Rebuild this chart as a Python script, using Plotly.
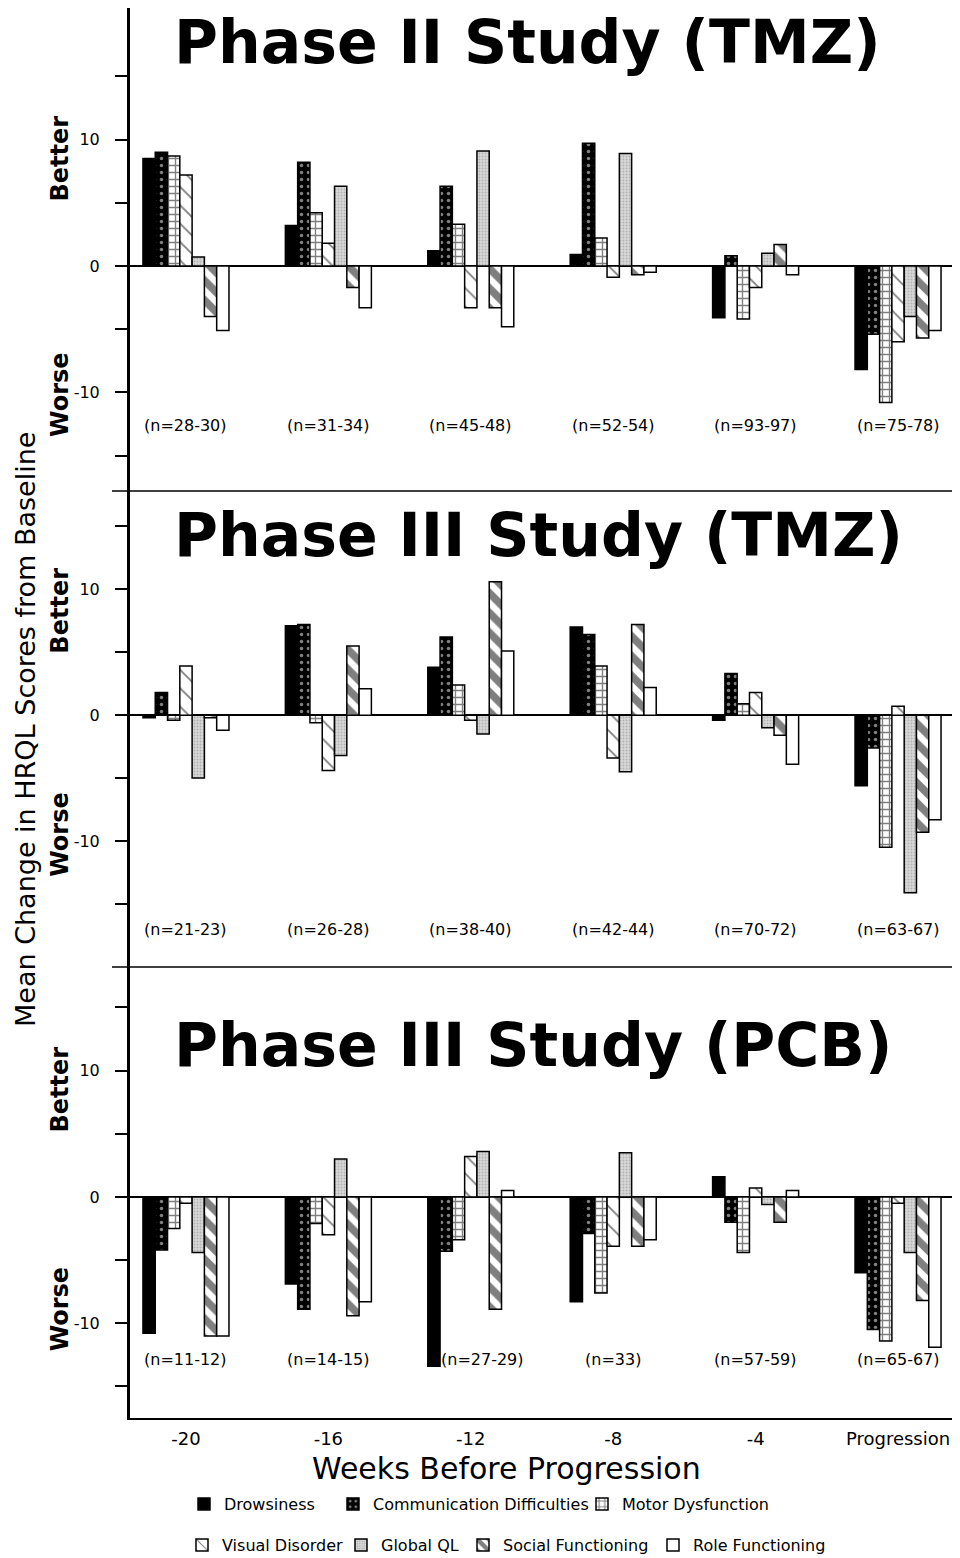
import plotly.graph_objects as go

# ---------------- data ----------------
weeks = ["-20", "-16", "-12", "-8", "-4", "Progression"]
series = ["Drowsiness", "Communication Difficulties", "Motor Dysfunction",
          "Visual Disorder", "Global QL", "Social Functioning", "Role Functioning"]

panel_titles = ["Phase II Study (TMZ)", "Phase III Study (TMZ)", "Phase III Study (PCB)"]

# Phase II (TMZ)
p2_drowsiness = [8.5, 3.2, 1.2, 0.9, -4.1, -8.2]
p2_communication = [9.0, 8.2, 6.3, 9.7, 0.8, -5.4]
p2_motor = [8.7, 4.2, 3.3, 2.2, -4.2, -10.8]
p2_visual = [7.2, 1.8, -3.3, -0.9, -1.7, -6.0]
p2_global = [0.7, 6.3, 9.1, 8.9, 1.0, -4.0]
p2_social = [-4.0, -1.7, -3.3, -0.7, 1.7, -5.7]
p2_role = [-5.1, -3.3, -4.8, -0.5, -0.7, -5.1]
p2_n = ["(n=28-30)", "(n=31-34)", "(n=45-48)", "(n=52-54)", "(n=93-97)", "(n=75-78)"]

# Phase III (TMZ)
p3t_drowsiness = [-0.2, 7.1, 3.8, 7.0, -0.4, -5.6]
p3t_communication = [1.8, 7.2, 6.2, 6.4, 3.3, -2.6]
p3t_motor = [-0.4, -0.6, 2.4, 3.9, 0.9, -10.5]
p3t_visual = [3.9, -4.4, -0.4, -3.4, 1.8, 0.7]
p3t_global = [-5.0, -3.2, -1.5, -4.5, -1.0, -14.1]
p3t_social = [-0.2, 5.5, 10.6, 7.2, -1.6, -9.3]
p3t_role = [-1.2, 2.1, 5.1, 2.2, -3.9, -8.3]
p3t_n = ["(n=21-23)", "(n=26-28)", "(n=38-40)", "(n=42-44)", "(n=70-72)", "(n=63-67)"]

# Phase III (PCB)
p3p_drowsiness = [-10.8, -6.9, -13.4, -8.3, 1.6, -6.0]
p3p_communication = [-4.2, -8.9, -4.3, -2.9, -2.0, -10.5]
p3p_motor = [-2.5, -2.1, -3.4, -7.6, -4.4, -11.4]
p3p_visual = [-0.5, -3.0, 3.2, -3.9, 0.7, -0.5]
p3p_global = [-4.4, 3.0, 3.6, 3.5, -0.6, -4.4]
p3p_social = [-11.0, -9.4, -8.9, -3.9, -2.0, -8.2]
p3p_role = [-11.0, -8.3, 0.5, -3.4, 0.5, -11.9]
p3p_n = ["(n=11-12)", "(n=14-15)", "(n=27-29)", "(n=33)", "(n=57-59)", "(n=65-67)"]

panels = [
    [p2_drowsiness, p2_communication, p2_motor, p2_visual, p2_global, p2_social, p2_role],
    [p3t_drowsiness, p3t_communication, p3t_motor, p3t_visual, p3t_global, p3t_social, p3t_role],
    [p3p_drowsiness, p3p_communication, p3p_motor, p3p_visual, p3p_global, p3p_social, p3p_role],
]
panel_n = [p2_n, p3t_n, p3p_n]

# ---------------- styles ----------------
styles = [
    dict(color="black", pattern=dict(shape="")),
    dict(color="black", pattern=dict(shape=".", fgcolor="white", bgcolor="black", size=7, solidity=0.2)),
    dict(color="white", pattern=dict(shape="+", fgcolor="black", bgcolor="white", size=7, solidity=0.35)),
    dict(color="white", pattern=dict(shape="\\", fgcolor="black", bgcolor="white", size=13, solidity=0.14)),
    dict(color="#cfcfcf", pattern=dict(shape=".", fgcolor="#8a8a8a", bgcolor="#d8d8d8", size=3, solidity=0.3)),
    dict(color="white", pattern=dict(shape="\\", fgcolor="black", bgcolor="white", size=14, solidity=0.55)),
    dict(color="white", pattern=dict(shape="")),
]

x_pos = list(range(len(weeks)))
FONT = "DejaVu Sans"

fig = go.Figure()
legend_names = ["legend", "legend2", "legend3", "legend4", "legend5", "legend6", "legend7"]
for p, vals in enumerate(panels):
    xa = "x" if p == 0 else f"x{p+1}"
    ya = "y" if p == 0 else f"y{p+1}"
    for s, name in enumerate(series):
        st = styles[s]
        fig.add_trace(go.Bar(
            x=x_pos, y=vals[s], name=name, xaxis=xa, yaxis=ya,
            offsetgroup=str(s), showlegend=(p == 0), legend=legend_names[s],
            marker=dict(color=st["color"], pattern=st["pattern"],
                        line=dict(color="black", width=1.5)),
        ))

# geometry in reference-picture pixels; the page body adds an 8 px offset
O = 8
REF_W, REF_H = 960, 1558
W, H = REF_W - O, REF_H - O
PL, PR, PT, PB = 130, 955, 8, 1418   # plot area in reference pixels
L, R, T, B = PL - O, (REF_W - PR), PT - O, (REF_H - PB)
PW, PH = PR - PL, PB - PT
def py(y):  # reference pixel y -> paper y
    return (PB - y) / PH
def px(x):
    return (x - PL) / PW

dom_top = [py(491), 1.0]
dom_mid = [py(967), py(491)]
dom_bot = [0.0, py(967)]
yranges = [[-17.8, 20.4], [-20.0, 17.8], [-17.5, 18.2]]
doms = [dom_top, dom_mid, dom_bot]

xr = [-0.393, 5.4]
tickv = [-15, -10, -5, 0, 5, 10, 15]
tickt = ["", "-10", "", "0", "", "10", ""]

layout = dict(
    width=W, height=H, margin=dict(l=L, r=R, t=T, b=B, autoexpand=False),
    paper_bgcolor="white", plot_bgcolor="white",
    barmode="group", bargap=0.396, bargroupgap=0,
    font=dict(family=FONT, color="black"),
)
for p in range(3):
    xk = "xaxis" if p == 0 else f"xaxis{p+1}"
    yk = "yaxis" if p == 0 else f"yaxis{p+1}"
    ya = "y" if p == 0 else f"y{p+1}"
    xa = "x" if p == 0 else f"x{p+1}"
    layout[xk] = dict(
        domain=[0, 1], anchor=ya, range=xr, showgrid=False, zeroline=False,
        tickvals=x_pos, ticktext=weeks, showticklabels=(p == 2),
        showline=(p == 2), linecolor="black", linewidth=2, ticks="",
        tickfont=dict(size=18, family=FONT), ticklabelstandoff=3,
        automargin=False,
    )
    if p < 2:
        layout[xk]["matches"] = "x3"
    layout[yk] = dict(
        domain=doms[p], anchor=xa, range=yranges[p], showgrid=False,
        zeroline=True, zerolinecolor="black", zerolinewidth=1.5,
        showline=True, linecolor="black", linewidth=3,
        tickvals=tickv, ticktext=tickt, ticks="outside", ticklen=12,
        tickwidth=1.5, tickcolor="black", automargin=False,
        tickfont=dict(size=16, family=FONT), ticklabelstandoff=12,
    )
fig.update_layout(**layout)

annotations = []
title_y = [17.7, 14.3, 12.0]
n_y = [-12.6, -17.0, -12.9]
better_y = [8.5, 8.3, 8.5]
worse_y = [-10.2, -9.5, -8.9]
for p in range(3):
    xa = "x" if p == 0 else f"x{p+1}"
    ya = "y" if p == 0 else f"y{p+1}"
    annotations.append(dict(
        text=panel_titles[p], xref="paper", yref=ya, x=px(172), y=title_y[p],
        xanchor="left", yanchor="middle", showarrow=False,
        font=dict(family=FONT, size=60, color="black", weight="bold"),
    ))
    for i, lab in enumerate(panel_n[p]):
        # the label that collides with a long bar is nudged right, as in the original
        shift = 12 if (p == 2 and i == 2) else 0
        annotations.append(dict(
            text=lab, xref=xa, yref=ya, x=x_pos[i], y=n_y[p], xshift=shift,
            xanchor="center", yanchor="middle",
            showarrow=False, font=dict(family=FONT, size=16, color="black"),
        ))
    for word, wy in (("Better", better_y[p]), ("Worse", worse_y[p])):
        annotations.append(dict(
            text=word, xref="paper", yref=ya, x=px(60), y=wy,
            xanchor="center", yanchor="middle", textangle=-90, showarrow=False,
            font=dict(family=FONT, size=24, color="black", weight="bold"),
        ))
annotations.append(dict(
    text="Mean Change in HRQL Scores from Baseline", xref="paper", yref="paper",
    x=px(25), y=py(730), xanchor="center", yanchor="middle",
    textangle=-90, showarrow=False,
    font=dict(family=FONT, size=27, color="black"),
))
annotations.append(dict(
    text="Weeks Before Progression", xref="paper", yref="paper",
    x=px(506), y=py(1468), xanchor="center", yanchor="middle", showarrow=False,
    font=dict(family=FONT, size=30, color="black"),
))
fig.update_layout(annotations=annotations)

# separator lines between panels
shapes = []
for yy in [491, 967]:
    shapes.append(dict(type="line", xref="paper", yref="paper",
                       x0=px(112), x1=1.0, y0=py(yy), y1=py(yy),
                       line=dict(color="black", width=1.5)))
fig.update_layout(shapes=shapes)

# one legend per item, placed like the reference
leg_pos = [(208, 1504), (357, 1504), (606, 1504),
           (206, 1545), (365, 1545), (487, 1545), (677, 1545)]
for k, (cx, cy) in enumerate(leg_pos):
    fig.update_layout(**{legend_names[k]: dict(
        x=px(cx - 24), y=py(cy), xanchor="left", yanchor="middle",
        orientation="h", bgcolor="rgba(0,0,0,0)", borderwidth=0,
        font=dict(family=FONT, size=16, color="black"),
        itemwidth=30,
    )})

fig.write_html("out.html")
